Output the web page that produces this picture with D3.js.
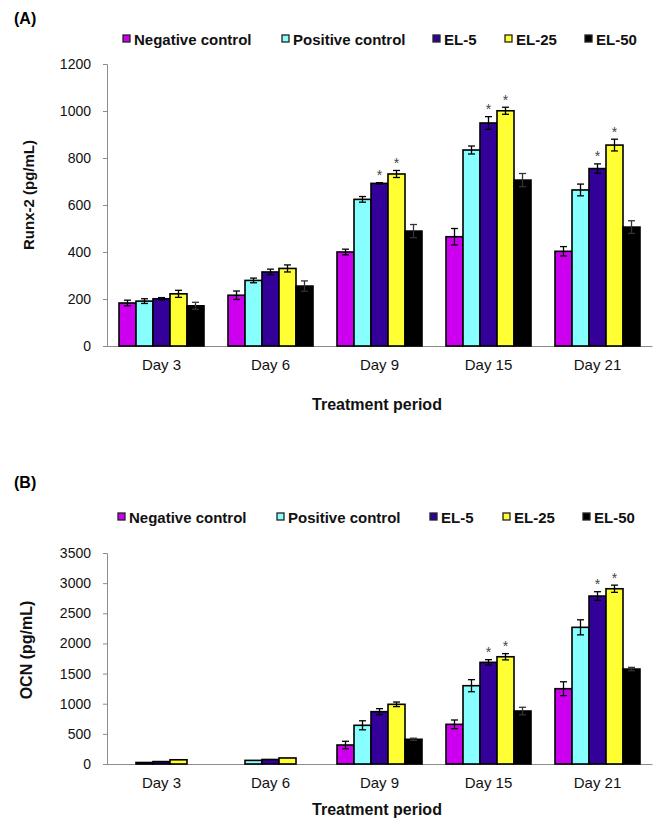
<!DOCTYPE html>
<html><head><meta charset="utf-8">
<script src="https://cdn.jsdelivr.net/npm/d3@7"></script>
<style>body{margin:0;background:#fff}svg{display:block}text{font-family:"Liberation Sans",Arial,sans-serif}</style>
</head><body>
<svg id="c" width="660" height="824"></svg>
<script>
const days = ["Day 3","Day 6","Day 9","Day 15","Day 21"];
const seriesNames = ["Negative control","Positive control","EL-5","EL-25","EL-50"];
const colors = ["#CC00EE","#88FFFF","#330099","#FFFF33","#000000"];
// Panel A: Runx-2 (pg/mL), rows = series, cols = days
const runxValues = [
  [183, 216, 400, 465, 403],
  [191, 279, 624, 834, 664],
  [201, 315, 692, 949, 755],
  [222, 330, 732, 1001, 855],
  [171, 255, 489, 706, 506]
];
const runxErrors = [
  [12, 18, 12, 35, 20],
  [10, 10, 12, 17, 25],
  [5, 12, 3, 27, 20],
  [15, 15, 15, 15, 25],
  [15, 22, 28, 28, 27]
];
const runxStars = [[2,2],[2,3],[3,2],[3,3],[4,2],[4,3]]; // [dayIndex, seriesIndex]
const runxTicks = [0,200,400,600,800,1000,1200];
// Panel B: OCN (pg/mL)
const ocnValues = [
  [0, 0, 315, 658, 1249],
  [25, 60, 642, 1299, 2267],
  [40, 75, 868, 1686, 2786],
  [70, 100, 990, 1779, 2907],
  [0, 0, 410, 879, 1575]
];
const ocnErrors = [
  [0, 0, 62, 72, 115],
  [0, 0, 75, 100, 125],
  [0, 0, 50, 45, 72],
  [0, 0, 38, 52, 60],
  [0, 0, 18, 62, 28]
];
const ocnStars = [[3,2],[3,3],[4,2],[4,3]];
const ocnTicks = [0,500,1000,1500,2000,2500,3000,3500];

const svg = d3.select("#c");

function panel(o){
  const g = svg.append("g");
  const x = d3.scaleBand().domain(days).range([107,652]);
  const xs = d3.scaleBand().domain(seriesNames).range([12, x.step()-12]);
  const y = d3.scaleLinear().domain([0, o.max]).range([o.y0, o.y1]);

  // panel label
  g.append("text").attr("x",14).attr("y",o.labelY).attr("font-size",16).attr("font-weight","bold").text(o.label);

  // legend
  seriesNames.forEach((s,i)=>{
    g.append("rect").attr("x",o.legX[i]).attr("y",o.legY-4).attr("width",7).attr("height",7)
      .attr("fill",colors[i]).attr("stroke","#222").attr("stroke-width",1.3);
    g.append("text").attr("x",o.legX[i]+11).attr("y",o.legY+5.5).attr("font-size",15).attr("font-weight","bold")
      .attr("fill","#111").text(s);
  });

  // y axis
  const ya = g.append("g").attr("transform","translate(107,0)")
    .call(d3.axisLeft(y).tickValues(o.ticks).tickSize(4).tickPadding(12).tickFormat(d3.format("d")));
  ya.select(".domain").attr("stroke","#8c8c8c");
  ya.selectAll(".tick line").attr("stroke","#8c8c8c");
  ya.selectAll(".tick text").attr("font-size",14).attr("fill","#111").attr("font-family","Liberation Sans, Arial, sans-serif");

  // x axis
  const xa = g.append("g").attr("transform",`translate(0,${o.y0})`)
    .call(d3.axisBottom(x).tickSize(0).tickPadding(13.4));
  xa.select(".domain").attr("stroke","#8c8c8c");
  xa.selectAll(".tick text").attr("font-size",15).attr("fill","#111").attr("font-family","Liberation Sans, Arial, sans-serif");

  // bars
  o.values.forEach((row,si)=>{
    row.forEach((v,di)=>{
      if(!(v>0)) return;
      const bx = x(days[di]) + xs(seriesNames[si]);
      g.append("rect").attr("x",bx).attr("y",y(v)).attr("width",xs.bandwidth()).attr("height",y(0)-y(v))
        .attr("fill",colors[si]).attr("stroke","#000").attr("stroke-width",1.6);
      const e = o.errors[si][di];
      if(e>0){
        const cx = bx + xs.bandwidth()/2;
        const eg = g.append("g").attr("stroke", si===4 ? "#333" : "#000").attr("stroke-width",1.3);
        eg.append("line").attr("x1",cx).attr("x2",cx).attr("y1",y(v+e)).attr("y2",y(v-e));
        eg.append("line").attr("x1",cx-3.5).attr("x2",cx+3.5).attr("y1",y(v+e)).attr("y2",y(v+e));
        eg.append("line").attr("x1",cx-3.5).attr("x2",cx+3.5).attr("y1",y(v-e)).attr("y2",y(v-e));
      }
    });
  });

  // significance stars
  o.stars.forEach(([di,si])=>{
    const v = o.values[si][di], e = o.errors[si][di];
    const cx = x(days[di]) + xs(seriesNames[si]) + xs.bandwidth()/2;
    g.append("text").attr("x",cx).attr("y",y(v+e)-2.5).attr("text-anchor","middle")
      .attr("font-size",14).attr("fill","#444").text("*");
  });

  // axis titles
  g.append("text").attr("x",377).attr("y",o.xTitleY).attr("text-anchor","middle").attr("font-size",16)
    .attr("font-weight","bold").attr("fill","#111").text("Treatment period");
  g.append("text").attr("transform",`translate(${o.yTitleX},${o.yTitleY}) rotate(-90)`)
    .attr("text-anchor","middle").attr("font-size",o.yTitleSize).attr("font-weight","bold").attr("fill","#111").text(o.yTitle);
}

panel({label:"(A)", labelY:24, legY:39, legX:[123,282,433,505,585], max:1200, y0:346, y1:64, ticks:runxTicks,
  values:runxValues, errors:runxErrors, stars:runxStars, xTitleY:410, yTitleX:34, yTitleY:195, yTitleSize:15, yTitle:"Runx-2 (pg/mL)"});
panel({label:"(B)", labelY:488, legY:517, legX:[118,277,430,503,583], max:3500, y0:764, y1:553, ticks:ocnTicks,
  values:ocnValues, errors:ocnErrors, stars:ocnStars, xTitleY:815, yTitleX:32, yTitleY:650, yTitleSize:16, yTitle:"OCN (pg/mL)"});
</script>
</body></html>
